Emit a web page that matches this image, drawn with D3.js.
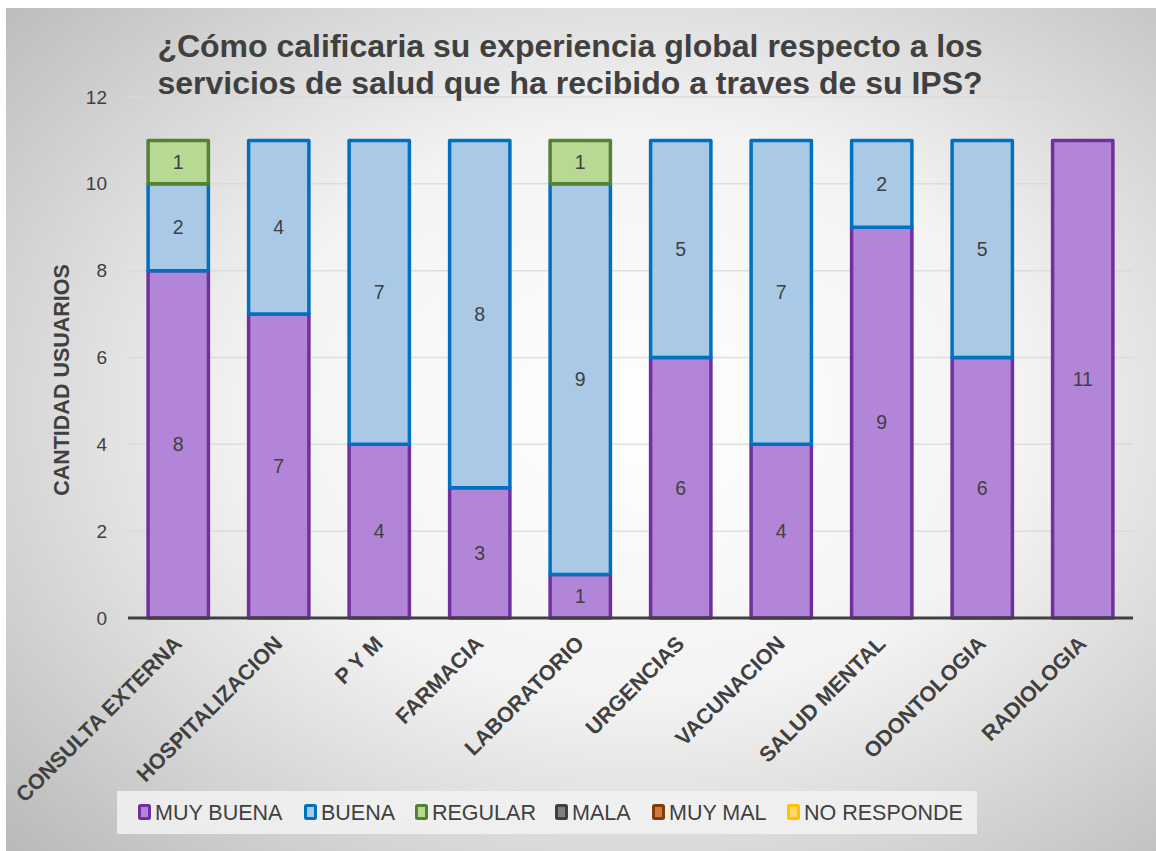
<!DOCTYPE html>
<html>
<head>
<meta charset="utf-8">
<script src="https://cdn.jsdelivr.net/npm/d3@7"></script>
<style>
  html, body { margin: 0; padding: 0; background: #ffffff; }
  svg { display: block; font-family: "Liberation Sans", Arial, sans-serif; }
</style>
</head>
<body>
<svg id="chart" width="1156" height="851"></svg>
<script>
const categories = ["CONSULTA EXTERNA", "HOSPITALIZACION", "P Y M", "FARMACIA", "LABORATORIO", "URGENCIAS", "VACUNACION", "SALUD MENTAL", "ODONTOLOGIA", "RADIOLOGIA"];
const seriesNames = ["MUY BUENA", "BUENA", "REGULAR", "MALA", "MUY MAL", "NO RESPONDE"];
const muyBuena   = [8, 7, 4, 3, 1, 6, 4, 9, 6, 11];
const buena      = [2, 4, 7, 8, 9, 5, 7, 2, 5, 0];
const regular    = [1, 0, 0, 0, 1, 0, 0, 0, 0, 0];
const mala       = [0, 0, 0, 0, 0, 0, 0, 0, 0, 0];
const muyMal     = [0, 0, 0, 0, 0, 0, 0, 0, 0, 0];
const noResponde = [0, 0, 0, 0, 0, 0, 0, 0, 0, 0];
const yTicks = [0, 2, 4, 6, 8, 10, 12];
const titleLines = ["¿Cómo calificaria su experiencia global respecto a los", "servicios de salud que ha recibido a traves de su IPS?"];
const yTitle = "CANTIDAD USUARIOS";

const fills   = ["#b385d8", "#a9c9e7", "#b7d993", "#7f7f7f", "#d27a3e", "#ffd966"];
const strokes = ["#7030a0", "#0070c0", "#538135", "#404040", "#843c0c", "#ffc000"];

const seriesValues = [muyBuena, buena, regular, mala, muyMal, noResponde];
const table = categories.map((c, i) => {
  const row = { cat: c };
  seriesNames.forEach((s, k) => row[s] = seriesValues[k][i]);
  return row;
});

const svg = d3.select("#chart");

// background
const defs = svg.append("defs");
const grad = defs.append("radialGradient").attr("id", "bg")
  .attr("cx", "55%").attr("cy", "48%").attr("r", "75%");
grad.append("stop").attr("offset", "0%").attr("stop-color", "#ffffff");
grad.append("stop").attr("offset", "45%").attr("stop-color", "#f3f3f3");
grad.append("stop").attr("offset", "100%").attr("stop-color", "#bababa");
svg.append("rect").attr("x", 6).attr("y", 8).attr("width", 1150).attr("height", 843).attr("fill", "url(#bg)");

const x = d3.scaleBand().domain(categories).range([128, 1133]).paddingInner(0.4).paddingOuter(0.2);
const y = d3.scaleLinear().domain([0, 12]).range([618, 97]);

// gridlines
svg.append("g").selectAll("line").data(yTicks.filter(d => d > 0)).join("line")
  .attr("x1", 128).attr("x2", 1133)
  .attr("y1", d => y(d)).attr("y2", d => y(d))
  .attr("stroke", "#d9d9d9").attr("stroke-width", 1.5).attr("opacity", 0.8);

// y axis
const yAxis = svg.append("g").attr("transform", "translate(128,0)")
  .call(d3.axisLeft(y).tickValues(yTicks).tickSize(0).tickPadding(21));
yAxis.select(".domain").remove();
yAxis.selectAll("text").attr("font-size", 19).attr("fill", "#404040")
  .attr("font-family", "'Liberation Sans', Arial, sans-serif");

// bars
const stack = d3.stack().keys(seriesNames);
const stacked = stack(table);
const layers = svg.append("g").selectAll("g").data(stacked).join("g");
layers.each(function(layer, k) {
  const segs = layer.filter(d => d[1] - d[0] > 0);
  d3.select(this).selectAll("rect").data(segs).join("rect")
    .attr("x", d => x(d.data.cat))
    .attr("y", d => y(d[1]))
    .attr("width", x.bandwidth())
    .attr("height", d => y(d[0]) - y(d[1]))
    .attr("fill", fills[k]).attr("stroke", strokes[k]).attr("stroke-width", 3.5)
    .attr("stroke-linejoin", "round");
});
// labels
layers.each(function(layer, k) {
  const segs = layer.filter(d => d[1] - d[0] > 0);
  d3.select(this).selectAll("text").data(segs).join("text")
    .attr("x", d => x(d.data.cat) + x.bandwidth() / 2)
    .attr("y", d => (y(d[0]) + y(d[1])) / 2)
    .attr("dy", "0.35em")
    .attr("text-anchor", "middle")
    .attr("font-size", 19.5).attr("fill", "#404040")
    .text(d => d[1] - d[0]);
});

// x axis line
svg.append("line").attr("x1", 128).attr("x2", 1133).attr("y1", y(0)).attr("y2", y(0))
  .attr("stroke", "#404040").attr("stroke-width", 3);

// x labels
svg.append("g").selectAll("text").data(categories).join("text")
  .attr("transform", d => `translate(${x(d) + x.bandwidth() / 2 + 5},645) rotate(-45)`)
  .attr("text-anchor", "end")
  .attr("font-size", 21.5).attr("font-weight", "bold").attr("fill", "#404040")
  .text(d => d);

// y title
svg.append("text").attr("transform", "translate(69,380) rotate(-90)")
  .attr("text-anchor", "middle").attr("font-size", 21.5).attr("font-weight", "bold").attr("fill", "#404040")
  .text(yTitle);

// title
svg.append("g").selectAll("text").data(titleLines).join("text")
  .attr("x", 570).attr("y", (d, i) => 57 + i * 37)
  .attr("text-anchor", "middle").attr("font-size", 32).attr("font-weight", "bold").attr("fill", "#404040")
  .text(d => d);

// legend
const lg = svg.append("g");
lg.append("rect").attr("x", 117).attr("y", 791).attr("width", 860).attr("height", 43)
  .attr("fill", "#f2f2f2").attr("opacity", 0.85);
const legendX = [138, 304, 415, 555, 652, 787];
const items = lg.selectAll("g.item").data(seriesNames).join("g").attr("class", "item")
  .attr("transform", (d, i) => `translate(${legendX[i]},812)`);
items.append("rect").attr("x", 1.5).attr("y", -6.5).attr("width", 10).attr("height", 13)
  .attr("fill", (d, i) => fills[i]).attr("stroke", (d, i) => strokes[i]).attr("stroke-width", 3).attr("rx", 1);
items.append("text").attr("x", 17).attr("y", 0).attr("dy", "0.35em")
  .attr("font-size", 21.5).attr("fill", "#404040")
  .text(d => d);
</script>
</body>
</html>
